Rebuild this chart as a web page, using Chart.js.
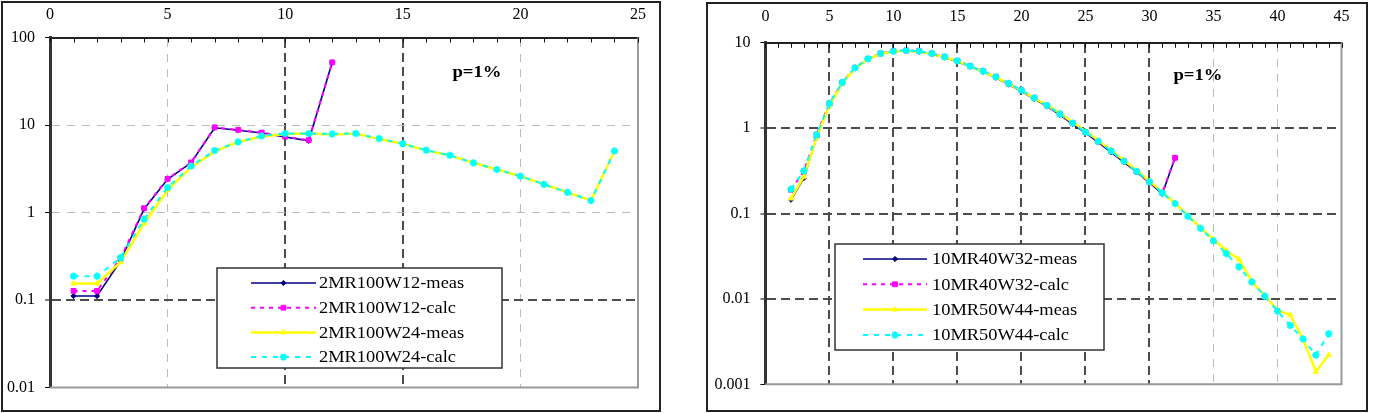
<!DOCTYPE html>
<html>
<head>
<meta charset="utf-8">
<script src="https://cdn.jsdelivr.net/npm/chart.js@4.4.1/dist/chart.umd.min.js"></script>
<style>
  html, body { margin: 0; padding: 0; background: #fff; width: 1380px; height: 413px; overflow: hidden; }
  .frame { position: absolute; border: 2px solid #222; box-sizing: border-box; background: #fff; }
  .frame canvas { display: block; }
</style>
</head>
<body>
<div class="frame" style="left:1px;top:1px;width:660px;height:411px"><canvas id="left" width="656" height="407"></canvas></div>
<div class="frame" style="left:706px;top:2px;width:662px;height:410px"><canvas id="right" width="658" height="406"></canvas></div>

<script>
const FONT = "'Liberation Serif', 'Times New Roman', serif";

// ---- left chart data ----
const leftLabels = ['2MR100W12-meas', '2MR100W12-calc', '2MR100W24-meas', '2MR100W24-calc'];
const leftX12 = [1, 2, 3, 4, 5, 6, 7, 8, 9, 10, 11, 12];
const w12Meas = [0.111, 0.111, 0.28, 1.1, 2.4, 3.7, 9.3, 8.7, 8.1, 7.3, 6.6, 52];
const w12Calc = [0.127, 0.127, 0.30, 1.12, 2.43, 3.74, 9.4, 8.8, 8.2, 7.35, 6.7, 52];
const leftX24 = [1, 2, 3, 4, 5, 6, 7, 8, 9, 10, 11, 12, 13, 14, 15, 16, 17, 18, 19, 20, 21, 22, 23, 24];
const w24Meas = [0.154, 0.154, 0.27, 0.75, 1.8, 3.3, 5.0, 6.4, 7.4, 7.9, 8.0, 7.8, 8.0, 6.9, 6.1, 5.1, 4.5, 3.7, 3.1, 2.6, 2.1, 1.7, 1.37, 5.05];
const w24Calc = [0.187, 0.187, 0.305, 0.84, 1.93, 3.4, 5.1, 6.4, 7.5, 8.0, 8.0, 7.9, 8.0, 7.0, 6.1, 5.15, 4.5, 3.7, 3.1, 2.6, 2.1, 1.7, 1.37, 5.05];
const leftYTicks = [0.01, 0.1, 1, 10, 100];

// ---- right chart data ----
const rightLabels = ['10MR40W32-meas', '10MR40W32-calc', '10MR50W44-meas', '10MR50W44-calc'];
const rightX32 = [2, 3, 4, 5, 6, 7, 8, 9, 10, 11, 12, 13, 14, 15, 16, 17, 18, 19, 20, 21, 22, 23, 24, 25, 26, 27, 28, 29, 30, 31, 32];
const w32Meas = [0.145, 0.26, 0.78, 1.85, 3.35, 5.0, 6.4, 7.4, 7.9, 8.0, 7.85, 7.35, 6.75, 6.0, 5.25, 4.55, 3.9, 3.25, 2.7, 2.2, 1.8, 1.43, 1.12, 0.88, 0.68, 0.52, 0.40, 0.305, 0.23, 0.17, 0.45];
const w32Calc = [0.19, 0.31, 0.84, 1.95, 3.43, 5.1, 6.5, 7.5, 7.98, 8.13, 8.0, 7.5, 6.85, 6.15, 5.33, 4.66, 4.0, 3.34, 2.79, 2.27, 1.84, 1.47, 1.15, 0.90, 0.70, 0.54, 0.41, 0.31, 0.235, 0.175, 0.45];
const rightX44 = [2, 3, 4, 5, 6, 7, 8, 9, 10, 11, 12, 13, 14, 15, 16, 17, 18, 19, 20, 21, 22, 23, 24, 25, 26, 27, 28, 29, 30, 31, 32, 33, 34, 35, 36, 37, 38, 39, 40, 41, 42, 43, 44];
const w44Meas = [0.15, 0.27, 0.78, 1.85, 3.35, 5.0, 6.4, 7.4, 7.9, 8.05, 7.9, 7.4, 6.8, 6.1, 5.3, 4.6, 3.95, 3.3, 2.75, 2.25, 1.85, 1.5, 1.17, 0.92, 0.72, 0.55, 0.42, 0.32, 0.24, 0.178, 0.132, 0.095, 0.068, 0.05, 0.037, 0.029, 0.016, 0.011, 0.0074, 0.0065, 0.0034, 0.0014, 0.0022];
const w44Calc = [0.193, 0.316, 0.84, 1.95, 3.43, 5.1, 6.5, 7.5, 7.98, 8.13, 8.0, 7.5, 6.85, 6.15, 5.33, 4.66, 4.0, 3.34, 2.79, 2.27, 1.84, 1.47, 1.15, 0.90, 0.70, 0.54, 0.41, 0.31, 0.235, 0.175, 0.131, 0.093, 0.067, 0.048, 0.034, 0.0237, 0.0158, 0.0108, 0.0072, 0.0049, 0.0034, 0.0022, 0.0039];
const rightYTicks = [0.001, 0.01, 0.1, 1, 10];

// series look, same order in both charts: meas, calc, meas, calc
const seriesStyles = [
  { color: '#000080', width: 1.6, dash: [], point: 'rectRot', radius: 2.6, pointWidth: 1 },
  { color: '#ff00ff', width: 2, dash: [4, 5], point: 'rect', radius: 3.4, pointWidth: 1 },
  { color: '#ffff00', width: 2.5, dash: [], point: 'triangle', radius: 3, pointWidth: 1 },
  { color: '#00ffff', width: 2, dash: [5, 6], point: 'star', radius: 3.6, pointWidth: 2 },
];

const pts = (xs, ys) => xs.map((x, i) => ({ x: x, y: ys[i] }));

function dataset(label, data, i) {
  const s = seriesStyles[i];
  return {
    label: label,
    data: data,
    borderColor: s.color,
    backgroundColor: s.color,
    borderWidth: s.width,
    borderDash: s.dash,
    pointStyle: s.point,
    pointRadius: s.radius,
    pointBackgroundColor: s.color,
    pointBorderColor: s.color,
    pointBorderWidth: s.pointWidth,
    tension: 0,
    order: 4 - i,
  };
}

// grid line look: dark dashed, light dashed or hidden (plot edges)
function gridOpts(dark, edges) {
  const val = c => (c.tick ? c.tick.value : null);
  return {
    color: c => {
      const v = val(c);
      if (v === null || edges.includes(v)) return 'rgba(0,0,0,0)';
      return dark.includes(v) ? '#4d4d4d' : '#bcbcbc';
    },
    lineWidth: c => (dark.includes(val(c)) ? 2 : 1),
    dash: c => (dark.includes(val(c)) ? [9, 5] : [8, 7]),
  };
}

// extras: inside minor ticks on the top axis, grey plot edges, legend box, note
const decoPlugin = {
  id: 'deco',
  afterDraw(chart, args, o) {
    const ctx = chart.ctx;
    const a = chart.chartArea;
    const xs = chart.scales.x;
    ctx.save();
    ctx.strokeStyle = '#999';
    ctx.lineWidth = 2;
    ctx.beginPath();
    ctx.moveTo(a.right, a.top);
    ctx.lineTo(a.right, a.bottom);
    ctx.lineTo(a.left, a.bottom);
    ctx.stroke();

    ctx.strokeStyle = '#111';
    ctx.lineWidth = 1;
    for (let v = xs.min; v <= xs.max; v++) {
      const px = Math.round(xs.getPixelForValue(v)) + 0.5;
      ctx.beginPath();
      ctx.moveTo(px, a.top);
      ctx.lineTo(px, a.top + 5);
      ctx.stroke();
    }

    const lg = o.legend;
    ctx.fillStyle = '#fff';
    ctx.fillRect(lg.x, lg.y, lg.w, lg.h);
    ctx.strokeStyle = '#333';
    ctx.lineWidth = 1.5;
    ctx.strokeRect(lg.x, lg.y, lg.w, lg.h);
    chart.data.datasets.forEach((ds, i) => {
      const y = lg.row0 + i * lg.gap;
      ctx.save();
      ctx.strokeStyle = ds.borderColor;
      ctx.lineWidth = ds.borderWidth;
      ctx.setLineDash(ds.borderDash);
      ctx.beginPath();
      ctx.moveTo(lg.line0, y);
      ctx.lineTo(lg.line1, y);
      ctx.stroke();
      ctx.setLineDash([]);
      ctx.fillStyle = ds.pointBackgroundColor;
      ctx.strokeStyle = ds.pointBorderColor;
      ctx.lineWidth = ds.pointBorderWidth;
      Chart.helpers.drawPoint(ctx, {
        pointStyle: ds.pointStyle, radius: ds.pointRadius, rotation: 0, borderWidth: ds.pointBorderWidth
      }, (lg.line0 + lg.line1) / 2, y);
      ctx.restore();

      ctx.save();
      ctx.translate(lg.textX, y + 1);
      ctx.scale(1.15, 1);
      ctx.font = '16px ' + FONT;
      ctx.fillStyle = '#000';
      ctx.textBaseline = 'middle';
      ctx.fillText(ds.label, 0, 0);
      ctx.restore();
    });

    ctx.save();
    ctx.translate(o.note.x, o.note.y);
    ctx.scale(1.1, 1);
    ctx.font = 'bold 17px ' + FONT;
    ctx.fillStyle = '#000';
    ctx.textAlign = 'center';
    ctx.textBaseline = 'middle';
    ctx.fillText('p=1%', 0, 0);
    ctx.restore();
    ctx.restore();
  }
};

function makeChart(id, cfg) {
  const xg = gridOpts(cfg.darkX, [0, cfg.xMax]);
  const yg = gridOpts(cfg.darkY, [cfg.yTicks[0], cfg.yTicks[cfg.yTicks.length - 1]]);
  return new Chart(document.getElementById(id), {
    type: 'line',
    data: { datasets: cfg.datasets },
    plugins: [decoPlugin],
    options: {
      responsive: false,
      animation: false,
      layout: { padding: cfg.padding },
      font: { family: FONT },
      scales: {
        x: {
          type: 'linear',
          position: 'top',
          min: 0,
          max: cfg.xMax,
          ticks: { stepSize: 5, padding: cfg.xPad, color: '#000', font: { family: FONT, size: 16 } },
          grid: { color: xg.color, lineWidth: xg.lineWidth, drawTicks: false },
          border: { color: '#222', width: 2, dash: xg.dash },
          afterFit: s => { s.height = cfg.xHeight; },
        },
        y: {
          type: 'logarithmic',
          min: cfg.yTicks[0],
          max: cfg.yTicks[cfg.yTicks.length - 1],
          afterBuildTicks: s => { s.ticks = cfg.yTicks.map(v => ({ value: v })); },
          ticks: { callback: v => String(v), padding: 10, color: '#000', font: { family: FONT, size: 16 } },
          grid: {
            color: yg.color, lineWidth: yg.lineWidth,
            drawTicks: true, tickLength: 5, tickColor: '#000', tickWidth: 1, tickBorderDash: []
          },
          border: { color: '#333', width: 3, dash: yg.dash },
          afterFit: s => { s.width = cfg.yWidth; },
        },
      },
      plugins: {
        legend: { display: false },
        tooltip: { enabled: false },
        deco: { legend: cfg.legend, note: cfg.note },
      },
    },
  });
}

makeChart('left', {
  datasets: [
    dataset(leftLabels[0], pts(leftX12, w12Meas), 0),
    dataset(leftLabels[1], pts(leftX12, w12Calc), 1),
    dataset(leftLabels[2], pts(leftX24, w24Meas), 2),
    dataset(leftLabels[3], pts(leftX24, w24Calc), 3),
  ],
  xMax: 25,
  yTicks: leftYTicks,
  darkX: [10, 15],
  darkY: [0.1],
  padding: { left: 0, top: 0, right: 11, bottom: 22.5 },
  xHeight: 34.5,
  yWidth: 47,
  xPad: 13,
  legend: { x: 214, y: 265, w: 285, h: 100, row0: 280, gap: 24.7, line0: 248, line1: 313, textX: 316 },
  note: { x: 474, y: 70 },
});

makeChart('right', {
  datasets: [
    dataset(rightLabels[0], pts(rightX32, w32Meas), 0),
    dataset(rightLabels[1], pts(rightX32, w32Calc), 1),
    dataset(rightLabels[2], pts(rightX44, w44Meas), 2),
    dataset(rightLabels[3], pts(rightX44, w44Calc), 3),
  ],
  xMax: 45,
  yTicks: rightYTicks,
  darkX: [5, 10, 15, 20, 25, 30],
  darkY: [0.01, 0.1, 1],
  padding: { left: 0, top: 0, right: 9.6, bottom: 25.7 },
  xHeight: 38.8,
  yWidth: 57.4,
  xPad: 16.5,
  legend: { x: 127, y: 240, w: 269, h: 106, row0: 255, gap: 25.3, line0: 155, line1: 219, textX: 224 },
  note: { x: 490, y: 72 },
});
</script>
</body>
</html>
